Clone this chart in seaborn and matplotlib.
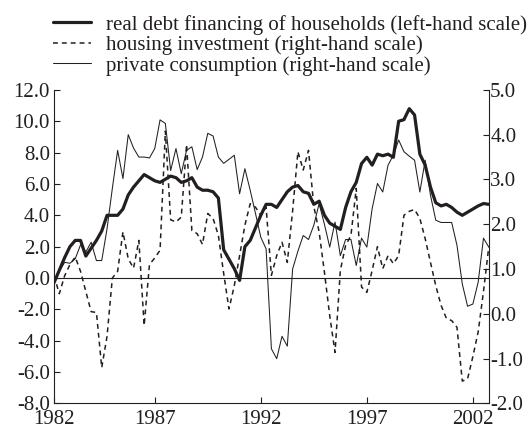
import numpy as np
import pandas as pd
import matplotlib
matplotlib.use("Agg")
import matplotlib.pyplot as plt
import seaborn as sns
from matplotlib.lines import Line2D

# ---- data (quarterly, 1982Q2 - 2002Q4) ----
quarters = pd.period_range("1982Q2", "2002Q4", freq="Q")

debt_financing = [  # left-hand scale
    -0.3, 0.5, 1.3, 2.0, 2.4, 2.4, 1.4, 1.9, 2.4, 3.0,
    4.0, 4.0, 4.0, 4.4, 5.3, 5.8, 6.2, 6.6, 6.4, 6.2,
    6.1, 6.3, 6.5, 6.4, 6.1, 6.2, 6.4, 5.8, 5.6, 5.6,
    5.5, 5.1, 1.8, 1.2, 0.6, -0.15, 2.0, 2.4, 3.2, 4.0,
    4.7, 4.7, 4.5, 5.0, 5.5, 5.8, 5.9, 5.5, 5.4, 4.7,
    4.9, 4.0, 3.5, 3.3, 3.1, 4.5, 5.5, 6.1, 7.3, 7.7,
    7.2, 7.9, 7.8, 7.9, 7.7, 10.0, 10.1, 10.8, 10.4, 7.9,
    7.2, 5.8, 4.8, 4.6, 4.7, 4.5, 4.2, 4.0, 4.2, 4.4,
    4.6, 4.75, 4.7,
]

housing_investment = [  # right-hand scale
    0.85, 0.45, 0.85, 1.1, 1.27, 0.95, 0.5, 0.05, 0.03, -1.2,
    -0.5, 0.8, 0.95, 1.83, 1.23, 1.02, 1.64, -0.26, 1.1, 1.25,
    1.42, 4.08, 2.1, 2.05, 2.16, 3.78, 1.86, 1.79, 1.55, 2.24,
    2.13, 1.75, 0.9, 0.11, 0.63, 1.3, 1.98, 2.46, 2.38, 2.2,
    2.38, 0.86, 1.3, 1.6, 1.15, 2.3, 3.62, 3.21, 3.65, 2.4,
    1.83, 0.93, -0.04, -0.86, 0.97, 1.53, 1.75, 2.8, 0.6, 0.48,
    0.97, 1.5, 1.01, 1.3, 1.12, 1.3, 2.2, 2.29, 2.33, 2.13,
    1.68, 1.15, 0.63, 0.19, -0.1, -0.15, -0.3, -1.5, -1.45, -0.95,
    -0.4, 0.5, 1.5,
]

private_consumption = [  # right-hand scale
    0.72, 0.95, 1.15, 1.13, 1.23, 1.54, 1.38, 1.6, 1.19, 1.19,
    1.9, 2.8, 3.65, 3.02, 4.0, 3.7, 3.5, 3.5, 3.48, 3.69,
    4.33, 4.25, 3.2, 3.69, 3.13, 3.65, 3.73, 3.22, 3.5, 4.03,
    3.97, 3.5, 3.36, 3.45, 3.54, 2.68, 3.24, 2.76, 2.24, 1.71,
    1.45, -0.78, -1.0, -0.5, -0.72, 1.0, 1.4, 1.75, 1.66, 1.98,
    2.46, 2.0, 1.49, 2.05, 1.3, 1.66, 1.66, 1.08, 1.69, 1.49,
    2.35, 2.91, 2.72, 3.32, 3.54, 3.88, 3.62, 3.52, 3.43, 2.72,
    3.43, 2.65, 2.09, 2.04, 2.04, 2.04, 1.53, 0.67, 0.17, 0.22,
    0.71, 1.69, 1.49,
]

labels = [
    "real debt financing of households (left-hand scale)",
    "housing investment (right-hand scale)",
    "private consumption (right-hand scale)",
]
x_tick_years = [1982, 1987, 1992, 1997, 2002]
left_ticks = [-8, -6, -4, -2, 0, 2, 4, 6, 8, 10, 12]
right_ticks = [-2, -1, 0, 1, 2, 3, 4, 5]

# ---- build table ----
t = quarters.year + (quarters.quarter - 1) / 4.0
df = pd.DataFrame({
    "t": t,
    "debt": debt_financing,
    "housing": housing_investment,
    "consumption": private_consumption,
})

# ---- style ----
sns.set_theme(style="ticks")
INK = "#231f20"
plt.rcParams["font.family"] = ["Liberation Serif", "DejaVu Serif"]
plt.rcParams["text.color"] = INK
plt.rcParams["axes.edgecolor"] = INK
plt.rcParams["xtick.color"] = INK
plt.rcParams["ytick.color"] = INK
plt.rcParams["axes.labelcolor"] = INK
FS = 15

fig = plt.figure(figsize=(5.27, 4.32), dpi=100)
ax = fig.add_axes([0.1025, 0.066, 0.825, 0.726])
ax2 = ax.twinx()

DASH = (0, (3.2, 2.6))
sns.lineplot(data=df, x="t", y="debt", ax=ax, color=INK, linewidth=2.3)
sns.lineplot(data=df, x="t", y="housing", ax=ax2, color=INK, linewidth=1.1,
             linestyle=DASH)
sns.lineplot(data=df, x="t", y="consumption", ax=ax2, color=INK, linewidth=0.75)

ax.axhline(0, color=INK, linewidth=0.8, zorder=1)

xmin, xmax = 1982.25, 2002.75
ax.set_xlim(xmin, xmax)
ax.set_ylim(-8, 12)
ax2.set_ylim(-2, 5)

tick_pos = [xmin] + x_tick_years[1:]
ax.set_xticks(tick_pos)
ax.set_xticklabels([str(y) for y in x_tick_years], fontsize=FS)
ax.set_yticks(left_ticks)
ax.set_yticklabels([f"{v:.1f}" for v in left_ticks], fontsize=FS)
ax2.set_yticks(right_ticks)
ax2.set_yticklabels([f"{v:.1f}" for v in right_ticks], fontsize=FS)

for a in (ax, ax2):
    a.set_xlabel("")
    a.set_ylabel("")
    a.spines["top"].set_visible(False)
    for s in a.spines.values():
        s.set_linewidth(0.8)
    a.tick_params(direction="in", length=4, width=0.8)
ax.tick_params(axis="y", pad=3)
ax.tick_params(axis="x", pad=5)
ax2.tick_params(axis="y", pad=1)
ax.spines["right"].set_visible(False)
ax2.spines["left"].set_visible(False)
ax2.spines["bottom"].set_visible(False)

handles = [
    Line2D([], [], color=INK, linewidth=2.3),
    Line2D([], [], color=INK, linewidth=1.1, linestyle=DASH),
    Line2D([], [], color=INK, linewidth=0.75),
]
fig.legend(handles, labels, loc="upper left", bbox_to_anchor=(0.1, 0.966),
           frameon=False, fontsize=FS, handlelength=1.85, handletextpad=0.7,
           labelspacing=0.04, borderpad=0, borderaxespad=0)

fig.savefig("out.png", dpi=100)
